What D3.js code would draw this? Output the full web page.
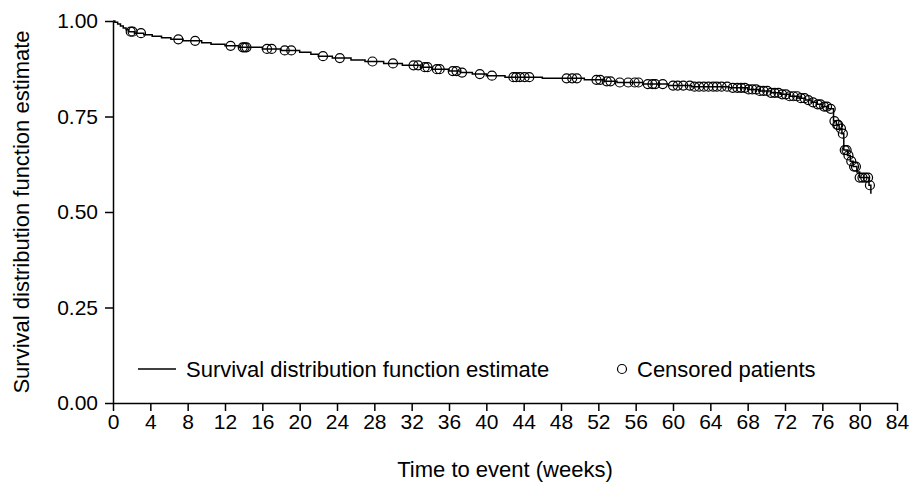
<!DOCTYPE html>
<html>
<head>
<meta charset="utf-8">
<script src="https://cdn.jsdelivr.net/npm/d3@7"></script>
<style>
  body { margin: 0; background: #fff; }
  text { font-family: "Liberation Sans", Arial, Helvetica, sans-serif; fill: #000; }
</style>
</head>
<body>
<div id="chart"></div>
<script>
// Kaplan-Meier style survival curve with censored patients

// step curve: time (weeks) where survival drops, and survival after that time
const stepTimes = [0, 0.2, 0.5, 0.8, 1.1, 1.4, 1.7, 2.3, 3.3, 4.2, 5.2, 6.2, 7.5, 9.5, 10.5,
  12.0, 13.5, 16.0, 18.0, 20.0, 21.2, 22.0, 23.5, 25.5, 27.0, 29.0, 31.0, 33.0, 34.2, 36.0,
  37.2, 38.5, 40.0, 42.0, 46.0, 50.5, 52.6, 54.0, 56.8, 59.5, 62.0, 66.0, 68.0, 69.2, 70.5,
  71.5, 72.5, 73.5, 74.2, 74.8, 75.4, 76.0, 76.6, 77.2, 77.5, 77.8, 78.1, 78.3, 78.7, 79.0,
  79.3, 79.7, 80.0, 81.0, 81.2];
const stepSurv = [1.000, 0.997, 0.992, 0.987, 0.982, 0.977, 0.972, 0.968, 0.964, 0.960, 0.956,
  0.952, 0.948, 0.943, 0.939, 0.935, 0.931, 0.927, 0.923, 0.918, 0.913, 0.908, 0.903, 0.898,
  0.894, 0.889, 0.884, 0.879, 0.874, 0.869, 0.865, 0.861, 0.857, 0.853, 0.850, 0.846, 0.842,
  0.839, 0.835, 0.831, 0.828, 0.825, 0.821, 0.817, 0.812, 0.808, 0.803, 0.798, 0.793, 0.787,
  0.782, 0.776, 0.770, 0.738, 0.728, 0.718, 0.705, 0.662, 0.648, 0.633, 0.619, 0.605, 0.590,
  0.570, 0.548];

// censoring times (weeks)
const censorTimes = [1.9, 2.1, 3.0, 7.0, 8.8, 12.6, 13.9, 14.1, 14.3, 16.5, 17.0, 18.4, 19.1,
  22.5, 24.3, 27.8, 30.0, 32.2, 32.7, 33.4, 33.7, 34.7, 35.0, 36.4, 36.8, 37.4, 39.3, 40.6,
  42.9, 43.2, 43.6, 44.1, 44.6, 48.6, 49.2, 49.7, 51.8, 52.2, 52.9, 53.3, 54.3, 55.2, 55.9,
  56.3, 57.3, 57.8, 58.1, 58.9, 60.0, 60.5, 61.1, 61.8, 62.3, 62.8, 63.3, 63.8, 64.3, 64.7,
  65.2, 65.8, 66.4, 66.9, 67.3, 67.7, 68.1, 68.5, 68.9, 69.3, 69.7, 70.1, 70.5, 70.9, 71.3,
  71.7, 72.1, 72.5, 72.9, 73.3, 73.7, 74.1, 74.5, 75.0, 75.5, 75.8, 76.2, 76.5, 76.9, 77.3,
  77.6, 77.7, 78.0, 78.2, 78.4, 78.6, 78.8, 79.1, 79.4, 79.6, 80.0, 80.3, 80.6, 80.9, 81.1];

const xTicks = d3.range(0, 85, 4);
const yTicks = [0, 0.25, 0.5, 0.75, 1.0];

const margin = { top: 21, right: 12, bottom: 82, left: 113 },
  width = 909 - margin.left - margin.right,
  height = 485 - margin.top - margin.bottom;

const svg = d3.select("#chart").append("svg")
  .attr("width", 909)
  .attr("height", 485);

const g = svg.append("g")
  .attr("transform", `translate(${margin.left},${margin.top})`);

const x = d3.scaleLinear().domain([0, 84]).range([0, width]);
const y = d3.scaleLinear().domain([0, 1]).range([height, 0]);

// survival value at a given time from the step curve
const bis = d3.bisector(d => d).right;
const survAt = t => stepSurv[Math.max(0, bis(stepTimes, t) - 1)];

const steps = stepTimes.map((t, i) => ({ t: t, s: stepSurv[i] }));

// axes
const xAxis = g.append("g")
  .attr("transform", `translate(0,${height})`)
  .call(d3.axisBottom(x).tickValues(xTicks).tickSize(8).tickSizeOuter(0).tickPadding(3));
const yAxis = g.append("g")
  .call(d3.axisLeft(y).tickValues(yTicks).tickSize(8).tickSizeOuter(0).tickPadding(7)
    .tickFormat(d3.format(".2f")));

[xAxis, yAxis].forEach(a => {
  a.select(".domain").attr("stroke", "#000").attr("stroke-width", 1.5);
  a.selectAll(".tick line").attr("stroke", "#000").attr("stroke-width", 1.5);
  a.selectAll(".tick text").style("font-size", "21px").attr("fill", "#000");
});

// survival curve
const line = d3.line()
  .x(d => x(d.t))
  .y(d => y(d.s))
  .curve(d3.curveStepAfter);

g.append("path")
  .datum(steps)
  .attr("fill", "none")
  .attr("stroke", "#000")
  .attr("stroke-width", 1.5)
  .attr("d", line);

// censored patients
g.selectAll(".cens")
  .data(censorTimes)
  .enter().append("circle")
  .attr("class", "cens")
  .attr("cx", d => x(d))
  .attr("cy", d => y(survAt(d)))
  .attr("r", 4.5)
  .attr("fill", "none")
  .attr("stroke", "#000")
  .attr("stroke-width", 1.2);

// axis titles
svg.append("text")
  .attr("x", margin.left + width / 2)
  .attr("y", 477)
  .style("text-anchor", "middle")
  .style("font-size", "22px")
  .text("Time to event (weeks)");

svg.append("text")
  .attr("transform", `translate(29,${margin.top + height / 2}) rotate(-90)`)
  .style("text-anchor", "middle")
  .style("font-size", "22px")
  .text("Survival distribution function estimate");

// legend
const legend = svg.append("g");
legend.append("line")
  .attr("x1", 138).attr("x2", 176)
  .attr("y1", 369).attr("y2", 369)
  .attr("stroke", "#000").attr("stroke-width", 1.5);
legend.append("text")
  .attr("x", 186).attr("y", 377)
  .style("font-size", "22px")
  .text("Survival distribution function estimate");
legend.append("circle")
  .attr("cx", 622).attr("cy", 369).attr("r", 4.5)
  .attr("fill", "none").attr("stroke", "#000").attr("stroke-width", 1.2);
legend.append("text")
  .attr("x", 637).attr("y", 377)
  .style("font-size", "22px")
  .text("Censored patients");
</script>
</body>
</html>
